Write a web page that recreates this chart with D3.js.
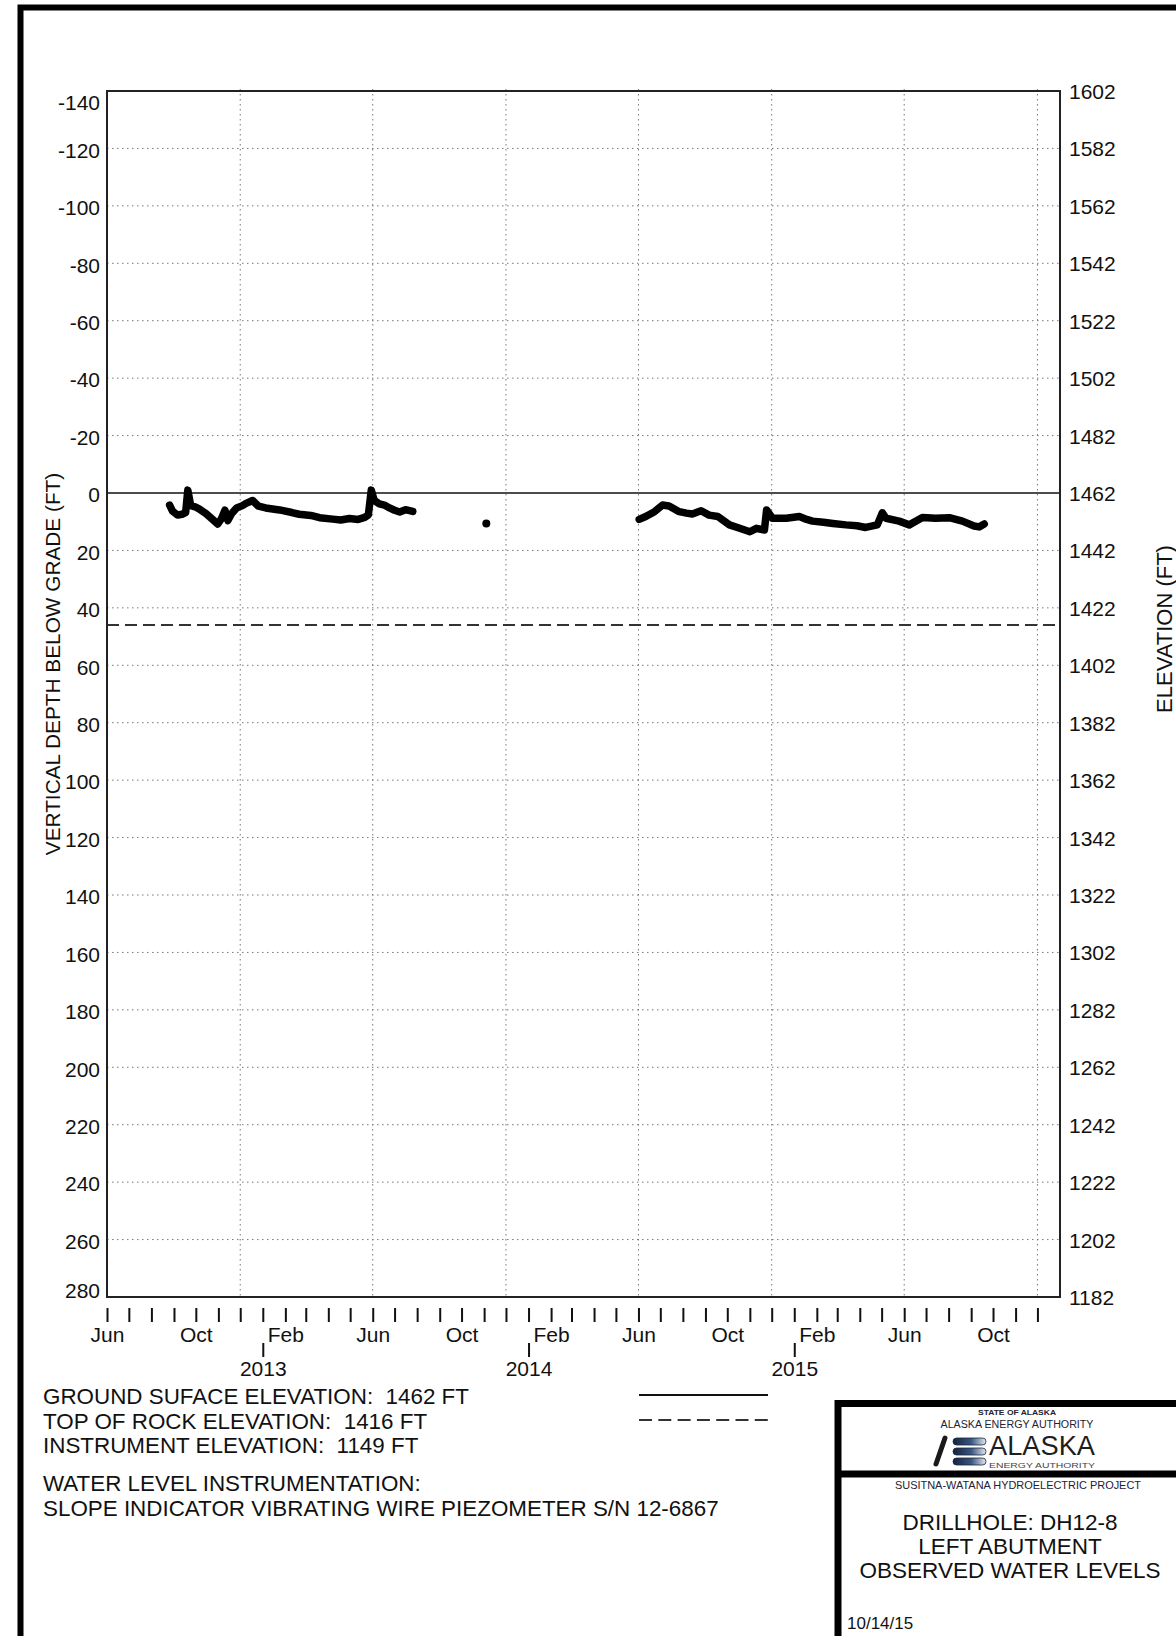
<!DOCTYPE html>
<html>
<head>
<meta charset="utf-8">
<script src="https://cdn.jsdelivr.net/npm/d3@7"></script>
<style>
  body { margin: 0; background: #fff; }
  svg { display: block; font-family: "Liberation Sans", Arial, sans-serif; }
  .keep { white-space: pre; }
</style>
</head>
<body>
<svg id="chart" width="1176" height="1636"></svg>
<script>
// piezometer readings, depth below grade (ft)
const seg1Dates = ["2012-08-26", "2012-08-30", "2012-09-06", "2012-09-12", "2012-09-17", "2012-09-20",
  "2012-09-24", "2012-09-30", "2012-10-06", "2012-10-15", "2012-10-24", "2012-10-31", "2012-11-05",
  "2012-11-10", "2012-11-14", "2012-11-19", "2012-11-26", "2012-12-04", "2012-12-09", "2012-12-18",
  "2012-12-26", "2013-01-05", "2013-01-24", "2013-02-10", "2013-02-20", "2013-03-08", "2013-03-20",
  "2013-04-07", "2013-04-18", "2013-04-30", "2013-05-12", "2013-05-21", "2013-05-26", "2013-05-30",
  "2013-06-03", "2013-06-10", "2013-06-17", "2013-06-24", "2013-07-01", "2013-07-08", "2013-07-16",
  "2013-07-26"];
const seg1Depth = [4.2, 6.3, 7.7, 7.4, 6.8, -1, 4.4, 4.8, 5.6, 7.2, 9.2, 10.8, 9.0,
  6.0, 9.6, 7.2, 5.2, 4.4, 3.6, 2.6, 4.6, 5.2, 5.9, 6.8, 7.4, 7.8, 8.6,
  9.1, 9.4, 8.9, 9.2, 8.5, 7.6, -1, 2.6, 3.8, 4.2, 5.2, 6.0, 6.6, 5.8,
  6.4];

const spotDates = ["2013-11-04"];
const spotDepth = [10.6];

const seg3Dates = ["2014-06-02", "2014-06-11", "2014-06-23", "2014-07-04", "2014-07-13", "2014-07-27",
  "2014-08-06", "2014-08-14", "2014-08-26", "2014-09-06", "2014-09-18", "2014-10-04", "2014-10-18",
  "2014-11-01", "2014-11-10", "2014-11-21", "2014-11-24", "2014-12-02", "2014-12-21", "2015-01-08",
  "2015-01-18", "2015-01-26", "2015-02-10", "2015-02-23", "2015-03-13", "2015-03-28", "2015-04-09",
  "2015-04-25", "2015-05-02", "2015-05-07", "2015-05-25", "2015-06-08", "2015-06-26", "2015-07-14",
  "2015-08-02", "2015-08-20", "2015-09-05", "2015-09-12", "2015-09-19"];
const seg3Depth = [9.2, 8.2, 6.5, 4.2, 4.5, 6.5, 7.0, 7.3, 6.2, 7.7, 8.2, 11.1, 12.3,
  13.5, 12.3, 12.9, 5.9, 8.8, 8.8, 8.2, 9.2, 9.8, 10.2, 10.6, 11.1, 11.4, 12.0,
  11.1, 6.9, 8.8, 9.8, 11.1, 8.5, 8.8, 8.6, 9.8, 11.5, 11.8, 10.8];

const depthTicks = [-140, -120, -100, -80, -60, -40, -20, 0, 20, 40, 60, 80, 100, 120, 140,
  160, 180, 200, 220, 240, 260, 280];
const elevTicks = [1602, 1582, 1562, 1542, 1522, 1502, 1482, 1462, 1442, 1422, 1402, 1382, 1362,
  1342, 1322, 1302, 1282, 1262, 1242, 1222, 1202, 1182];
const gridDates = ["2012-12-01", "2013-06-01", "2013-12-01", "2014-06-01", "2014-12-01",
  "2015-06-01", "2015-12-01"];
const yearTicks = ["2013-01-01", "2014-01-01", "2015-01-01"];

const groundElev = 1462;
const rockElev = 1416;

const infoLines = ["GROUND SUFACE ELEVATION:  1462 FT", "TOP OF ROCK ELEVATION:  1416 FT",
  "INSTRUMENT ELEVATION:  1149 FT", "", "WATER LEVEL INSTRUMENTATION:",
  "SLOPE INDICATOR VIBRATING WIRE PIEZOMETER S/N 12-6867"];
const titleLines = ["DRILLHOLE: DH12-8", "LEFT ABUTMENT", "OBSERVED WATER LEVELS"];

let parse = d3.timeParse("%Y-%m-%d");
let svg = d3.select("#chart");

let plot = { left: 107, top: 91, right: 1060, bottom: 1297 };

let x = d3.scaleTime()
  .domain([parse("2012-06-01"), parse("2016-01-01")])
  .range([plot.left, plot.right]);
let y = d3.scaleLinear()
  .domain([-140, 280])
  .range([plot.top, plot.bottom]);
let yElev = d3.scaleLinear()
  .domain([groundElev + 140, groundElev - 280])
  .range([plot.top, plot.bottom]);

// page frame
svg.append("rect")
  .attr("x", 20.5).attr("y", 7.5)
  .attr("width", 1300).attr("height", 1800)
  .attr("fill", "none").attr("stroke", "#000").attr("stroke-width", 6);

// dotted grid
svg.append("g")
  .selectAll("line")
  .data(depthTicks.filter(d => d != 0 && d != -140 && d != 280))
  .enter().append("line")
  .attr("x1", plot.left).attr("x2", plot.right)
  .attr("y1", d => y(d)).attr("y2", d => y(d))
  .attr("stroke", "#777").attr("stroke-width", 1).attr("stroke-dasharray", "1.5,3.5");

svg.append("g")
  .selectAll("line")
  .data(gridDates.map(parse))
  .enter().append("line")
  .attr("x1", d => x(d)).attr("x2", d => x(d))
  .attr("y1", plot.top - 2).attr("y2", plot.bottom)
  .attr("stroke", "#777").attr("stroke-width", 1).attr("stroke-dasharray", "1.5,3.5");

// ground surface and top of rock
svg.append("line")
  .attr("x1", plot.left).attr("x2", plot.right)
  .attr("y1", y(0)).attr("y2", y(0))
  .attr("stroke", "#111").attr("stroke-width", 1.6);

svg.append("line")
  .attr("x1", plot.left).attr("x2", plot.right)
  .attr("y1", y(groundElev - rockElev)).attr("y2", y(groundElev - rockElev))
  .attr("stroke", "#333").attr("stroke-width", 2).attr("stroke-dasharray", "12,6");

// frame of the plot
svg.append("rect")
  .attr("x", plot.left).attr("y", plot.top)
  .attr("width", plot.right - plot.left).attr("height", plot.bottom - plot.top)
  .attr("fill", "none").attr("stroke", "#222").attr("stroke-width", 2);

// water levels
let lineGen = d3.line()
  .x(d => x(d.date))
  .y(d => y(d.depth));

[[seg1Dates, seg1Depth], [seg3Dates, seg3Depth]].forEach(function (s) {
  let pts = s[0].map((d, i) => ({ date: parse(d), depth: s[1][i] }));
  svg.append("path")
    .datum(pts)
    .attr("fill", "none")
    .attr("stroke", "#000")
    .attr("stroke-width", 7.5)
    .attr("stroke-linejoin", "round")
    .attr("stroke-linecap", "round")
    .attr("d", lineGen);
});

svg.append("g")
  .selectAll("circle")
  .data(spotDates.map((d, i) => ({ date: parse(d), depth: spotDepth[i] })))
  .enter().append("circle")
  .attr("cx", d => x(d.date)).attr("cy", d => y(d.depth))
  .attr("r", 4).attr("fill", "#000");

// axes
let leftAxis = svg.append("g")
  .attr("transform", "translate(" + plot.left + ",0)")
  .call(d3.axisLeft(y).tickValues(depthTicks).tickSize(0).tickPadding(7).tickFormat(d => String(d)));
leftAxis.select(".domain").remove();
leftAxis.attr("font-size", 21).attr("font-family", null);
leftAxis.selectAll("text").attr("fill", "#111").attr("dy", "0.42em");
leftAxis.selectAll(".tick").filter(d => d == -140).select("text").attr("dy", "0.86em");
leftAxis.selectAll(".tick").filter(d => d == 280).select("text").attr("dy", "0.02em");

let rightAxis = svg.append("g")
  .attr("transform", "translate(" + plot.right + ",0)")
  .call(d3.axisRight(yElev).tickValues(elevTicks).tickSize(0).tickPadding(9).tickFormat(d => String(d)));
rightAxis.select(".domain").remove();
rightAxis.attr("font-size", 21).attr("font-family", null);
rightAxis.selectAll("text").attr("fill", "#111").attr("dy", "0.36em");

let months = d3.timeMonth.range(x.domain()[0], x.domain()[1]);
let monthAxis = svg.append("g")
  .attr("transform", "translate(0,1308)")
  .call(d3.axisBottom(x).tickValues(months).tickSize(14).tickPadding(5)
    .tickFormat(d => d.getMonth() % 4 == 1 ? d3.timeFormat("%b")(d) : ""));
monthAxis.select(".domain").remove();
monthAxis.attr("font-size", 21).attr("font-family", null);
monthAxis.selectAll("line").attr("stroke", "#111").attr("stroke-width", 2);
monthAxis.selectAll("text").attr("fill", "#111");

let yearAxis = svg.append("g")
  .attr("transform", "translate(0,1343)")
  .call(d3.axisBottom(x).tickValues(yearTicks.map(parse)).tickSize(14).tickPadding(4)
    .tickFormat(d3.timeFormat("%Y")));
yearAxis.select(".domain").remove();
yearAxis.attr("font-size", 21).attr("font-family", null);
yearAxis.selectAll("line").attr("stroke", "#111").attr("stroke-width", 2);
yearAxis.selectAll("text").attr("fill", "#111");

// axis titles
svg.append("text")
  .attr("transform", "translate(60,664) rotate(-90)")
  .attr("text-anchor", "middle")
  .attr("font-size", 20.8).attr("fill", "#111")
  .text("VERTICAL DEPTH BELOW GRADE (FT)");

svg.append("text")
  .attr("transform", "translate(1172,629) rotate(-90)")
  .attr("text-anchor", "middle")
  .attr("font-size", 22).attr("fill", "#111")
  .text("ELEVATION (FT)");

// notes under the chart
svg.append("g")
  .selectAll("text")
  .data(infoLines)
  .enter().append("text")
  .attr("class", "keep")
  .attr("x", 43)
  .attr("y", (d, i) => i < 3 ? 1404 + i * 24.5 : 1491 + (i - 4) * 25)
  .attr("font-size", 22.4).attr("fill", "#111")
  .text(d => d);

// legend lines
svg.append("line")
  .attr("x1", 639).attr("x2", 768).attr("y1", 1395).attr("y2", 1395)
  .attr("stroke", "#111").attr("stroke-width", 2);
svg.append("line")
  .attr("x1", 639).attr("x2", 768).attr("y1", 1420).attr("y2", 1420)
  .attr("stroke", "#333").attr("stroke-width", 2).attr("stroke-dasharray", "13,6.3");

// title block
svg.append("rect")
  .attr("x", 838).attr("y", 1403.5)
  .attr("width", 400).attr("height", 300)
  .attr("fill", "#fff").attr("stroke", "#000").attr("stroke-width", 7);
svg.append("line")
  .attr("x1", 838).attr("x2", 1240).attr("y1", 1474).attr("y2", 1474)
  .attr("stroke", "#000").attr("stroke-width", 7);

svg.append("text")
  .attr("x", 1017).attr("y", 1415)
  .attr("text-anchor", "middle").attr("font-size", 8).attr("font-weight", "bold")
  .attr("fill", "#223").attr("textLength", 78).attr("lengthAdjust", "spacingAndGlyphs")
  .text("STATE OF ALASKA");
svg.append("text")
  .attr("x", 1017).attr("y", 1428)
  .attr("text-anchor", "middle").attr("font-size", 10)
  .attr("fill", "#223").attr("textLength", 153).attr("lengthAdjust", "spacingAndGlyphs")
  .text("ALASKA ENERGY AUTHORITY");

// logo
let grad = svg.append("defs").append("linearGradient")
  .attr("id", "bar").attr("x1", "0%").attr("x2", "100%");
grad.append("stop").attr("offset", "0%").attr("stop-color", "#16223c");
grad.append("stop").attr("offset", "55%").attr("stop-color", "#3a5580");
grad.append("stop").attr("offset", "100%").attr("stop-color", "#e4e8ee");

svg.append("line")
  .attr("x1", 945).attr("y1", 1438).attr("x2", 936).attr("y2", 1464)
  .attr("stroke", "#1a1a1a").attr("stroke-width", 5).attr("stroke-linecap", "round");
svg.append("g")
  .selectAll("rect")
  .data([1438, 1448, 1458])
  .enter().append("rect")
  .attr("x", 953).attr("y", d => d)
  .attr("width", 33).attr("height", 7).attr("rx", 3.5)
  .attr("fill", "url(#bar)").attr("stroke", "#1a2640").attr("stroke-width", 0.8);

svg.append("text")
  .attr("x", 989).attr("y", 1455)
  .attr("font-size", 27).attr("fill", "#1e1e1e")
  .attr("textLength", 106).attr("lengthAdjust", "spacingAndGlyphs")
  .text("ALASKA");
svg.append("text")
  .attr("x", 989).attr("y", 1468)
  .attr("font-size", 7).attr("fill", "#444")
  .attr("textLength", 106).attr("lengthAdjust", "spacingAndGlyphs")
  .text("ENERGY AUTHORITY");

svg.append("text")
  .attr("x", 1018).attr("y", 1489)
  .attr("text-anchor", "middle").attr("font-size", 10.5)
  .attr("fill", "#223").attr("textLength", 246).attr("lengthAdjust", "spacingAndGlyphs")
  .text("SUSITNA-WATANA HYDROELECTRIC PROJECT");

svg.append("g")
  .selectAll("text")
  .data(titleLines)
  .enter().append("text")
  .attr("x", 1010)
  .attr("y", (d, i) => 1530 + i * 24)
  .attr("text-anchor", "middle")
  .attr("font-size", 22.5).attr("fill", "#111")
  .text(d => d);

svg.append("text")
  .attr("x", 847).attr("y", 1629)
  .attr("font-size", 17).attr("fill", "#111")
  .text("10/14/15");
</script>
</body>
</html>
